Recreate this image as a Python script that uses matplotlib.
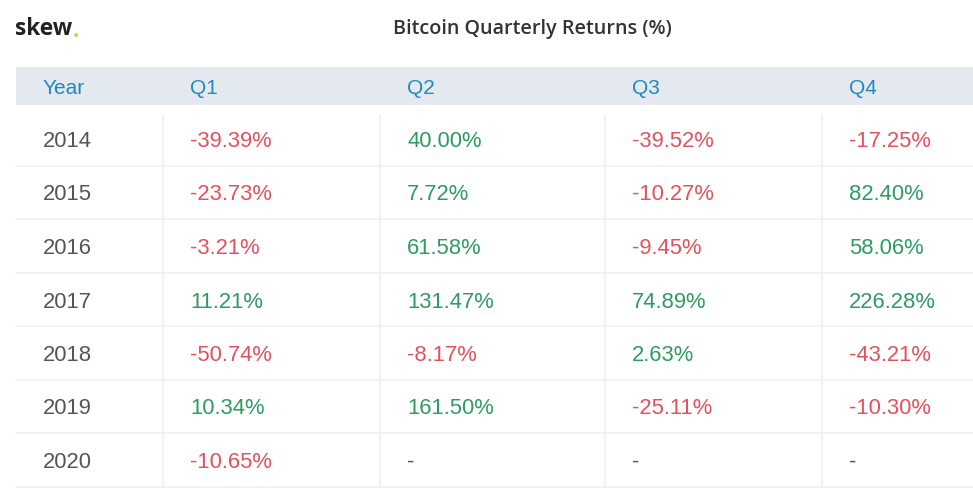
import matplotlib
matplotlib.use("Agg")
import matplotlib.pyplot as plt

years = ["2014", "2015", "2016", "2017", "2018", "2019", "2020"]
quarters = ["Q1", "Q2", "Q3", "Q4"]
q1 = [-39.39, -23.73, -3.21, 11.21, -50.74, 10.34, -10.65]
q2 = [40.00, 7.72, 61.58, 131.47, -8.17, 161.50, None]
q3 = [-39.52, -10.27, -9.45, 74.89, 2.63, -25.11, None]
q4 = [-17.25, 82.40, 58.06, 226.28, -43.21, -10.30, None]
title = "Bitcoin Quarterly Returns (%)"

W, H = 973, 488
fig = plt.figure(figsize=(W / 100, H / 100), dpi=100)
ax = fig.add_axes([0, 0, 1, 1])
ax.set_xlim(0, W)
ax.set_ylim(H, 0)
ax.axis("off")

RED = "#e2525c"
GREEN = "#2f9b62"
BLUE = "#2189bf"
HEADER_BG = "#e4e9f0"
YEAR_C = "#555555"
LINE_C = "#eef0f2"
FONT = "Liberation Sans"
FS = 15.8

col_edges = [16, 163, 380, 605, 822, 973]
pad = 27
header_top, header_bot = 67, 105
rows_top = 112
row_h = 53.5

# header band
ax.add_patch(plt.Rectangle((col_edges[0], header_top), W - col_edges[0], header_bot - header_top,
                           facecolor=HEADER_BG, edgecolor="none"))
headers = ["Year"] + quarters
for i, h in enumerate(headers):
    ax.text(col_edges[i] + pad, 88, h, color=BLUE,
            fontsize=15, family=FONT, va="center", ha="left")

cols = [q1, q2, q3, q4]
for r, y in enumerate(years):
    top = rows_top + r * row_h
    yc = top + 29.5
    ax.plot([col_edges[0], W], [top + row_h, top + row_h], color=LINE_C, lw=1.2)
    ax.text(col_edges[0] + pad, yc, y, color=YEAR_C, fontsize=FS, family=FONT,
            va="center", ha="left")
    for c, vals in enumerate(cols):
        v = vals[r]
        if v is None:
            s, colr = "-", YEAR_C
        else:
            s = f"{v:.2f}%"
            colr = GREEN if v >= 0 else RED
        ax.text(col_edges[c + 1] + pad, yc, s, color=colr, fontsize=FS, family=FONT,
                va="center", ha="left")

# vertical separators
for x in col_edges[1:-1]:
    ax.plot([x, x], [rows_top + 3, rows_top + len(years) * row_h], color=LINE_C, lw=1.2)

# brand + title
ax.text(15, 29, "skew", color="#222222", fontsize=16.4, family="Open Sans",
        fontweight="bold", va="center", ha="left")
ax.text(73, 37, ".", color="#efc24a", fontsize=16.4, family="Open Sans",
        fontweight="bold", va="baseline", ha="left")
ax.text(532, 29, title, color="#333333", fontsize=14.2, family="Open Sans",
        fontweight="semibold", va="center", ha="center")

fig.savefig("out.png", dpi=100)
